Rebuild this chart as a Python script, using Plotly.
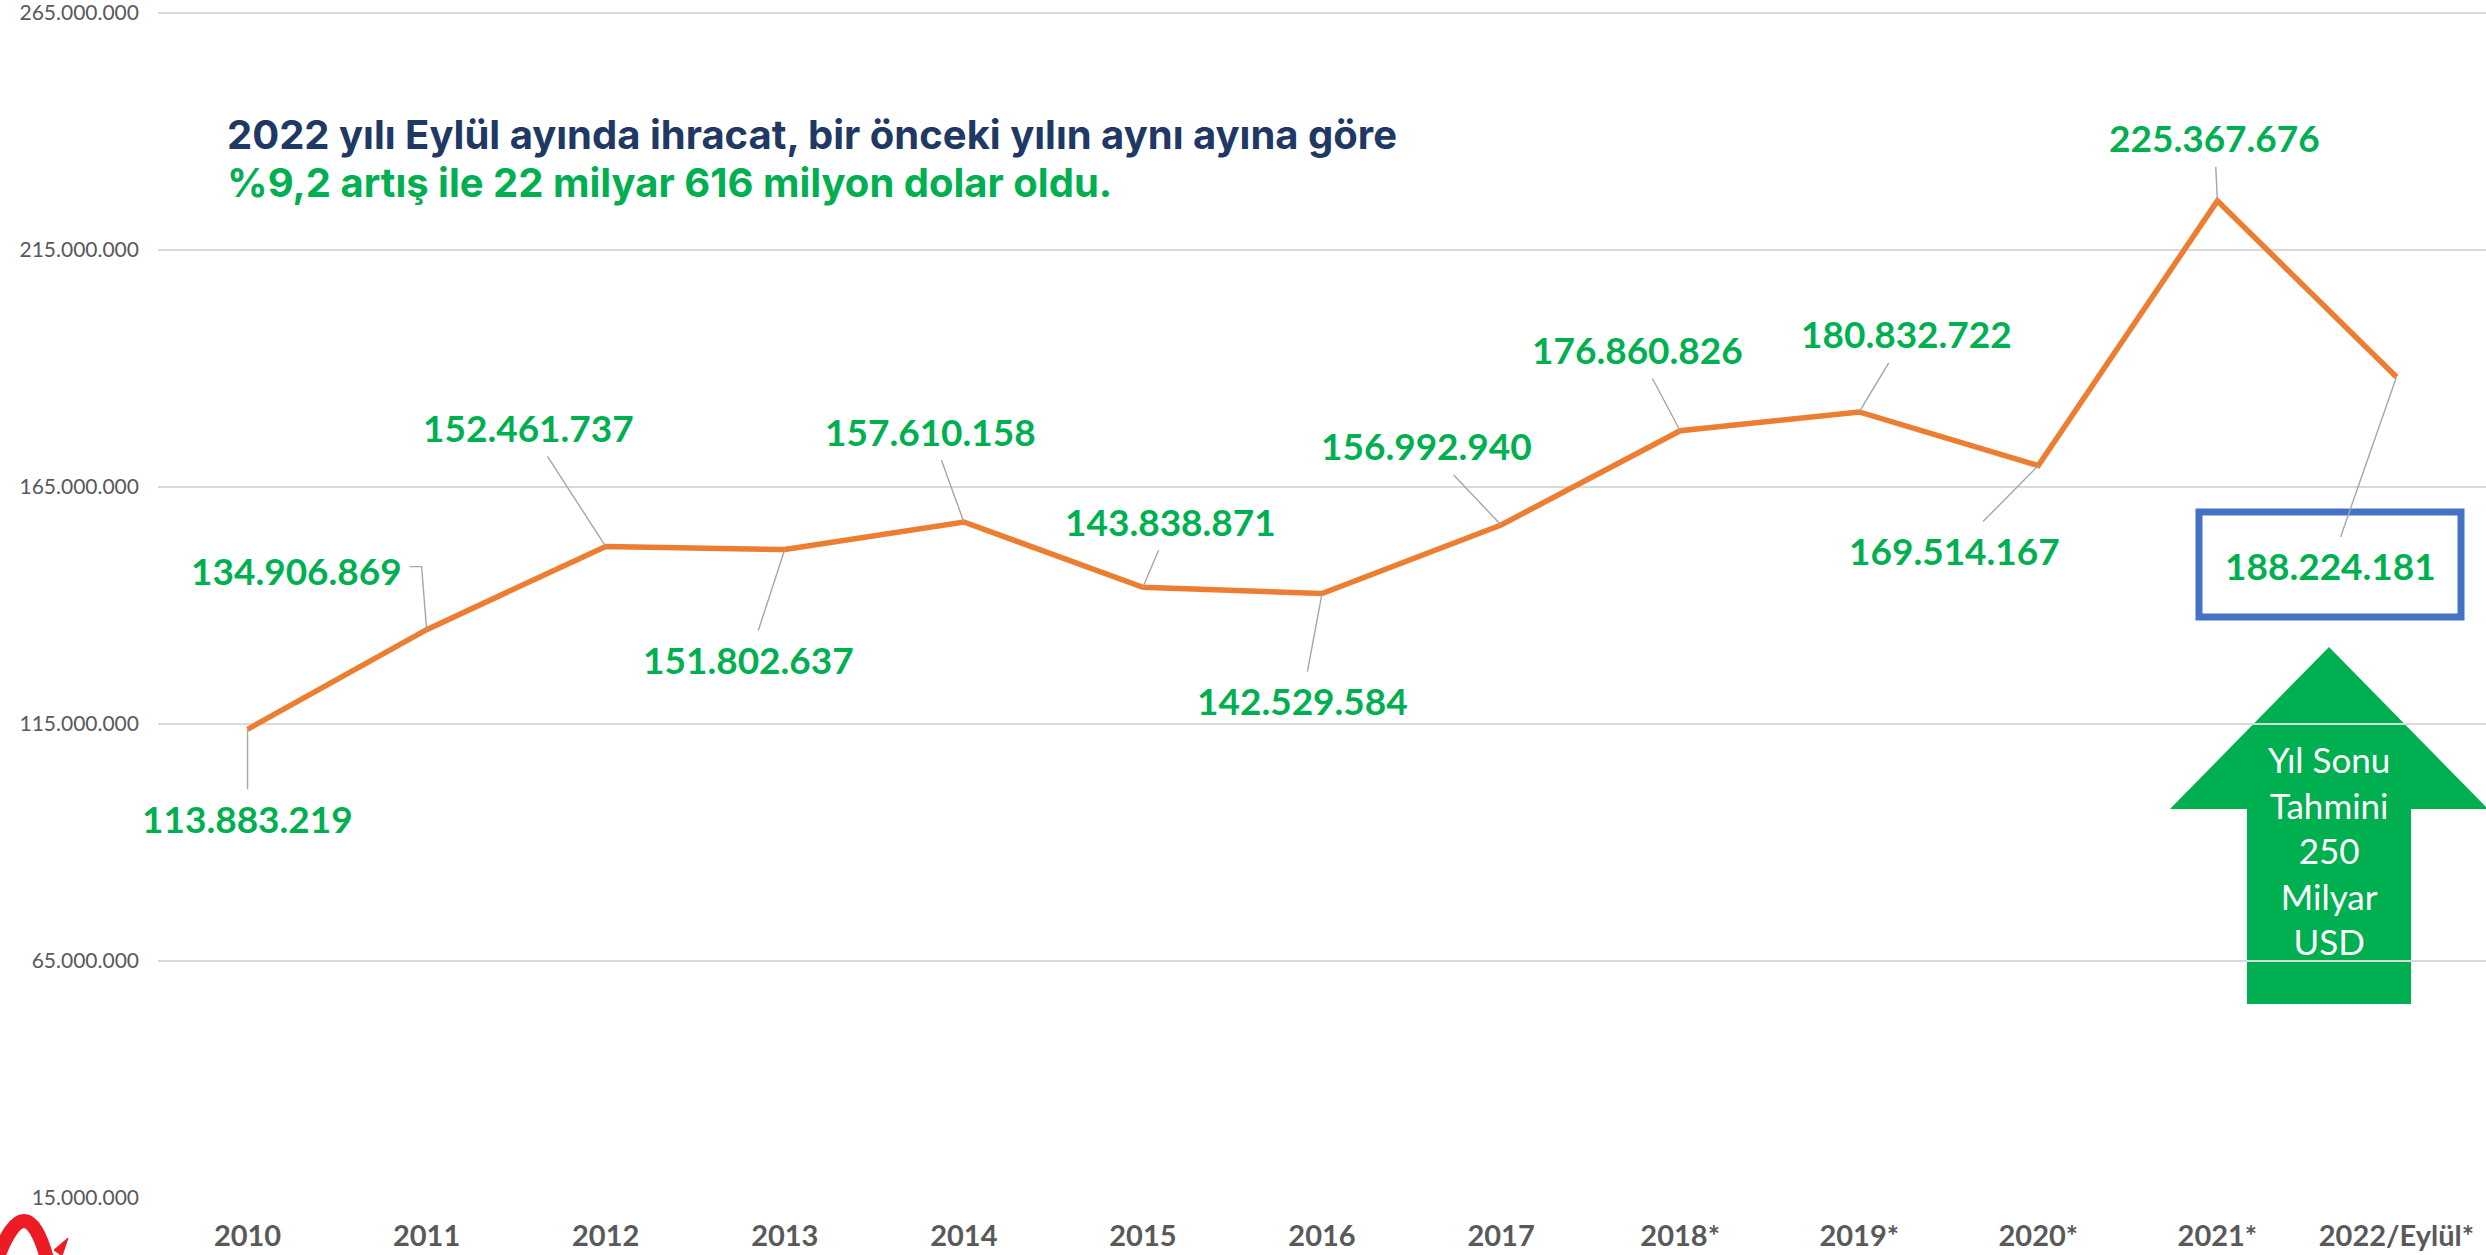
import plotly.graph_objects as go

# ---- data ----
years = ["2010", "2011", "2012", "2013", "2014", "2015", "2016", "2017",
         "2018*", "2019*", "2020*", "2021*", "2022/Eylül*"]
exports = [113883219, 134906869, 152461737, 151802637, 157610158, 143838871,
           142529584, 156992940, 176860826, 180832722, 169514167, 225367676,
           188224181]
y_ticks = [15000000, 65000000, 115000000, 165000000, 215000000, 265000000]

title_line1 = "2022 yılı Eylül ayında ihracat, bir önceki yılın aynı ayına göre"
title_line2 = "%9,2 artış ile 22 milyar 616 milyon dolar oldu."
arrow_text = "Yıl Sonu<br>Tahmini<br>250<br>Milyar<br>USD"

# ---- layout helpers (label offsets in px, relative to each point) ----
label_offsets = [(0, 89), (-130, -59), (-77, -119), (-36, 110), (-33, -91),
                 (28, -66), (-20, 107), (-75, -79), (-43, -81), (47, -78),
                 (-84, 85), (-3, -63), (-66, 189)]
ELBOW_IDX = 1  # label whose leader line is an elbow

ORANGE = "#ED7D31"
GREEN = "#00B050"
NAVY = "#203864"
GREY = "#595959"
LEADER = "#A6A6A6"

# plot area in px: left 158, right 2486, top 0, bottom 1198
PL, PR, PT, PB = 158, 2486, 0, 1198
Y_LO, Y_HI = 15000000, 265000000
px_per_unit = 1185 / (Y_HI - Y_LO)
y_top = Y_LO + (PB - PT) / px_per_unit

fig = go.Figure()
fig.add_trace(go.Scatter(
    x=years, y=exports, mode="lines",
    line=dict(color=ORANGE, width=5.5),
    hoverinfo="skip", showlegend=False,
))

def fmt(v):
    return f"{v:,}".replace(",", ".")

label_font = dict(family="Lato", size=37, color=GREEN, weight=700)
annotations = []
shapes = []
for i, (v, (ax, ay)) in enumerate(zip(exports, label_offsets)):
    if i == ELBOW_IDX:
        annotations.append(dict(
            x=i, y=v, xref="x", yref="y", text=fmt(v), showarrow=False,
            xshift=ax, yshift=-ay, font=label_font,
        ))
        shapes.append(dict(
            type="path", xref="x", yref="y", xsizemode="pixel", ysizemode="pixel",
            xanchor=i, yanchor=v, path="M -17 63 L -5 63 L 0 0",
            line=dict(color=LEADER, width=1.4),
        ))
    else:
        annotations.append(dict(
            x=i, y=v, xref="x", yref="y", text=fmt(v),
            showarrow=True, arrowhead=0, arrowwidth=1.4, arrowcolor=LEADER,
            ax=ax, ay=ay, standoff=0, borderpad=6, font=label_font,
        ))

def px(xp):
    return (xp - PL) / (PR - PL)
def py(yp):
    return (PB - yp) / (PB - PT)

annotations.append(dict(
    x=px(225), y=py(134), xref="paper", yref="paper", xanchor="left", yanchor="middle",
    text=title_line1, showarrow=False,
    font=dict(family="Inter", size=40, color=NAVY, weight=700),
))
annotations.append(dict(
    x=px(225), y=py(183), xref="paper", yref="paper", xanchor="left", yanchor="middle",
    text=title_line2, showarrow=False,
    font=dict(family="Inter", size=40, color=GREEN, weight=700),
))
annotations.append(dict(
    x=px(2329), y=py(850), xref="paper", yref="paper", xanchor="center", yanchor="middle",
    text=arrow_text, showarrow=False,
    font=dict(family="Lato", size=35, color="white"),
))

# green arrow (pixel positions converted to paper coords)
cx, hw, sw = 2329, 159, 82
tip, hb, bot = 647, 809, 1004
arrow_path = (f"M {px(cx)} {py(tip)} L {px(cx+hw)} {py(hb)} L {px(cx+sw)} {py(hb)} "
              f"L {px(cx+sw)} {py(bot)} L {px(cx-sw)} {py(bot)} L {px(cx-sw)} {py(hb)} "
              f"L {px(cx-hw)} {py(hb)} Z")

logo_path = (f"M {px(-4)} {py(1262)} Q {px(26)} {py(1180)} {px(48)} {py(1262)}")
logo_arrow = (f"M {px(54)} {py(1250)} L {px(68)} {py(1238)} L {px(62)} {py(1256)} Z")

shapes += [
    dict(type="path", xref="paper", yref="paper", path=arrow_path,
         fillcolor=GREEN, line=dict(width=0), layer="below"),
    dict(type="rect", xref="paper", yref="paper", x0=px(2199), x1=px(2461),
         y0=py(617), y1=py(512), line=dict(color="#4472C4", width=7),
         fillcolor="rgba(0,0,0,0)"),
    dict(type="path", xref="paper", yref="paper", path=logo_path,
         line=dict(color="#ED1C24", width=14)),
    dict(type="path", xref="paper", yref="paper", path=logo_arrow,
         fillcolor="#ED1C24", line=dict(color="#ED1C24", width=1)),
]

fig.update_layout(
    width=2486, height=1255,
    margin=dict(l=PL, r=2486 - PR, t=PT, b=1255 - PB),
    paper_bgcolor="white", plot_bgcolor="white",
    separators=",.",
    annotations=annotations,
    shapes=shapes,
    xaxis=dict(
        type="category", range=[-0.5, 12.5], showgrid=False, showline=False,
        zeroline=False, ticks="", ticklabelstandoff=18,
        tickfont=dict(family="Lato", size=29, color=GREY, weight=700),
    ),
    yaxis=dict(
        range=[Y_LO, y_top], tickvals=y_ticks, tickformat=",d",
        showgrid=True, gridcolor="#D9D9D9", gridwidth=1.5, zeroline=False,
        showline=False, ticks="", ticklabelstandoff=18, ticklabeloverflow="allow",
        tickfont=dict(family="Lato", size=21, color=GREY),
    ),
)

fig.write_html("out.html", config={"displayModeBar": False},
               post_script="document.body.style.margin='0';document.body.style.overflow='hidden';")
